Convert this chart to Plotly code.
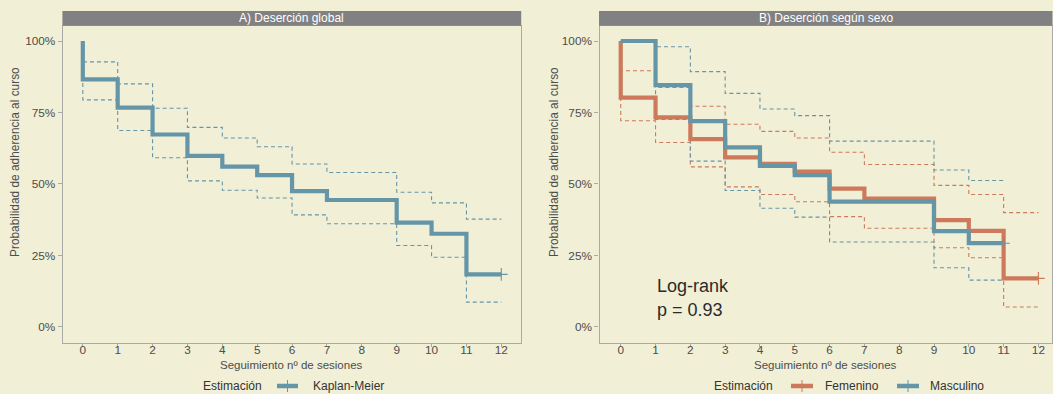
import plotly.graph_objects as go

W, H = 1053, 394

# ---------------- data ----------------
x_ticks = list(range(0, 13))
y_ticks = [0, 0.25, 0.5, 0.75, 1.0]
y_ticktext = ["0%", "25%", "50%", "75%", "100%"]

# Panel A: global Kaplan-Meier
t_global = [0, 0, 1, 2, 3, 4, 5, 6, 7, 9, 10, 11, 12]
s_global = [1.0, 0.866, 0.767, 0.673, 0.598, 0.561, 0.531, 0.475, 0.444, 0.365, 0.326, 0.184, 0.184]
up_global = [1.0, 0.927, 0.850, 0.765, 0.698, 0.661, 0.630, 0.570, 0.540, 0.471, 0.434, 0.377, 0.377]
lo_global = [1.0, 0.794, 0.687, 0.592, 0.511, 0.478, 0.451, 0.392, 0.361, 0.285, 0.244, 0.087, 0.087]

# Panel B: by sex
t_fem = [0, 0, 1, 2, 3, 4, 5, 6, 7, 9, 10, 11, 12]
s_fem = [1.0, 0.802, 0.733, 0.657, 0.593, 0.570, 0.543, 0.484, 0.449, 0.374, 0.336, 0.170, 0.170]
up_fem = [1.0, 0.896, 0.838, 0.772, 0.709, 0.684, 0.661, 0.611, 0.568, 0.495, 0.463, 0.400, 0.400]
lo_fem = [1.0, 0.721, 0.645, 0.560, 0.490, 0.463, 0.438, 0.386, 0.345, 0.277, 0.242, 0.070, 0.070]

t_mas = [0, 1, 2, 3, 4, 5, 6, 9, 10, 11]
s_mas = [1.0, 0.846, 0.720, 0.628, 0.563, 0.531, 0.438, 0.335, 0.293, 0.293]
up_mas = [1.0, 0.980, 0.893, 0.817, 0.762, 0.739, 0.650, 0.549, 0.512, 0.512]
lo_mas = [1.0, 0.726, 0.580, 0.477, 0.415, 0.384, 0.297, 0.207, 0.164, 0.164]

pval_text = ["Log-rank", "p = 0.93"]

# ---------------- style ----------------
BG = "#F1EFD6"
BLUE = "#6596A8"
ORANGE = "#CC7A5B"
STRIP = "#818183"
AXC = "#A9A9A6"
TXT = "#4D4D4D"
FONT = "Liberation Sans, Arial, sans-serif"

def px(x):
    return x / W

def py(y):
    return 1 - y / H

fig = go.Figure()

def step(x, y, color, width, dash=None, xa="x", ya="y"):
    fig.add_trace(go.Scatter(
        x=x, y=y, mode="lines", line=dict(color=color, width=width, shape="hv", dash=dash),
        xaxis=xa, yaxis=ya, showlegend=False, hoverinfo="skip"))

def censor(x, y, color, xa, ya):
    fig.add_trace(go.Scatter(
        x=[x], y=[y], mode="markers",
        marker=dict(symbol="cross-thin", size=9, line=dict(color=color, width=1.1)),
        xaxis=xa, yaxis=ya, showlegend=False, hoverinfo="skip"))

DASH = "4px,3px"
# Panel A
step(t_global, up_global, BLUE, 1.1, DASH, "x", "y")
step(t_global, lo_global, BLUE, 1.1, DASH, "x", "y")
step(t_global, s_global, BLUE, 4.2, None, "x", "y")
censor(t_global[-1], s_global[-1], BLUE, "x", "y")

# Panel B
step(t_fem, up_fem, ORANGE, 1.1, DASH, "x2", "y2")
step(t_fem, lo_fem, ORANGE, 1.1, DASH, "x2", "y2")
step(t_mas, up_mas, BLUE, 1.1, DASH, "x2", "y2")
step(t_mas, lo_mas, BLUE, 1.1, DASH, "x2", "y2")
step(t_fem, s_fem, ORANGE, 4.2, None, "x2", "y2")
step(t_mas, s_mas, BLUE, 4.2, None, "x2", "y2")
censor(t_fem[-1], s_fem[-1], ORANGE, "x2", "y2")
censor(t_mas[-1], s_mas[-1], BLUE, "x2", "y2")

# ---------------- axes ----------------
top_px, bot_px = 25.7, 343.0
ydom = [py(bot_px), py(top_px)]
A_l, A_r = 62.9, 520.7
B_l, B_r = 599.5, 1052.0

xcommon = dict(
    tickvals=x_ticks, ticktext=[str(v) for v in x_ticks],
    tickfont=dict(family=FONT, size=11.8, color=TXT),
    ticks="outside", ticklen=3, tickwidth=1, tickcolor=AXC,
    showline=True, linecolor=AXC, linewidth=1.3, mirror=True,
    showgrid=False, zeroline=False, fixedrange=True,
    ticklabelstandoff=-7,
)
ycommon = dict(
    tickvals=y_ticks, ticktext=y_ticktext,
    tickfont=dict(family=FONT, size=11.8, color=TXT),
    ticks="outside", ticklen=4, tickwidth=1, tickcolor=AXC,
    showline=True, linecolor=AXC, linewidth=1.3, mirror=True,
    showgrid=False, zeroline=False, fixedrange=True,
    range=[-0.056, 1.0535], domain=ydom,
)

fig.update_layout(
    width=W, height=H,
    margin=dict(l=0, r=0, t=0, b=0),
    paper_bgcolor=BG, plot_bgcolor=BG,
    showlegend=False,
    xaxis=dict(xcommon, domain=[px(A_l), px(A_r)], range=[-0.571, 12.556], anchor="y"),
    yaxis=dict(ycommon, anchor="x"),
    xaxis2=dict(xcommon, domain=[px(B_l), px(B_r)], range=[-0.61, 12.39], anchor="y2"),
    yaxis2=dict(ycommon, anchor="x2"),
)

shapes = []
annotations = []

# strips
for (l, r, title) in [(A_l, A_r, "A) Deserción global"), (B_l, B_r, "B) Deserción según sexo")]:
    shapes.append(dict(type="rect", xref="paper", yref="paper",
                       x0=px(l - 0.5), x1=px(r + 0.5), y0=py(25.7), y1=py(11),
                       fillcolor=STRIP, line=dict(width=0), layer="above"))
    annotations.append(dict(xref="paper", yref="paper", x=px((l + r) / 2), y=py(18.4),
                            text=title, showarrow=False, xanchor="center", yanchor="middle",
                            font=dict(family=FONT, size=12, color="white")))
    # x title
    annotations.append(dict(xref="paper", yref="paper", x=px((l + r) / 2), y=py(365),
                            text="Seguimiento nº de sesiones", showarrow=False,
                            xanchor="center", yanchor="middle",
                            font=dict(family=FONT, size=11.5, color=TXT)))

# y titles
for xc in (15, 554):
    annotations.append(dict(xref="paper", yref="paper", x=px(xc), y=py(162),
                            text="Probabilidad de adherencia al curso", showarrow=False,
                            textangle=-90, xanchor="center", yanchor="middle",
                            font=dict(family=FONT, size=11.9, color=TXT)))

# legends
LEG_Y = 386
def legend_text(x_left, text):
    annotations.append(dict(xref="paper", yref="paper", x=px(x_left), y=py(LEG_Y),
                            text=text, showarrow=False, xanchor="left", yanchor="middle",
                            font=dict(family=FONT, size=12, color="#333333")))

def legend_key(x0, x1, color):
    shapes.append(dict(type="line", xref="paper", yref="paper",
                       x0=px(x0), x1=px(x1), y0=py(LEG_Y), y1=py(LEG_Y),
                       line=dict(color=color, width=4.5)))
    xm = (x0 + x1) / 2
    shapes.append(dict(type="line", xref="paper", yref="paper",
                       x0=px(xm), x1=px(xm), y0=py(LEG_Y - 6), y1=py(LEG_Y + 6),
                       line=dict(color=color, width=1)))

legend_text(201, "Estimación")
legend_key(277, 298, BLUE)
legend_text(311, "Kaplan-Meier")

legend_text(712, "Estimación")
legend_key(791, 813, ORANGE)
legend_text(823, "Femenino")
legend_key(897, 919, BLUE)
legend_text(928, "Masculino")

# log-rank annotation
annotations.append(dict(xref="x2", yref="y2", x=1, y=0.143, text=pval_text[0], showarrow=False,
                        xanchor="left", yanchor="middle", xshift=-1,
                        font=dict(family=FONT, size=18, color="#2B2B2B")))
annotations.append(dict(xref="x2", yref="y2", x=1, y=0.059, text=pval_text[1], showarrow=False,
                        xanchor="left", yanchor="middle", xshift=-1,
                        font=dict(family=FONT, size=18, color="#2B2B2B")))

fig.update_layout(shapes=shapes, annotations=annotations)

fig.write_html(
    "out.html",
    config={"displayModeBar": False},
    post_script="document.body.style.margin='0px';document.body.style.overflow='hidden';",
)
